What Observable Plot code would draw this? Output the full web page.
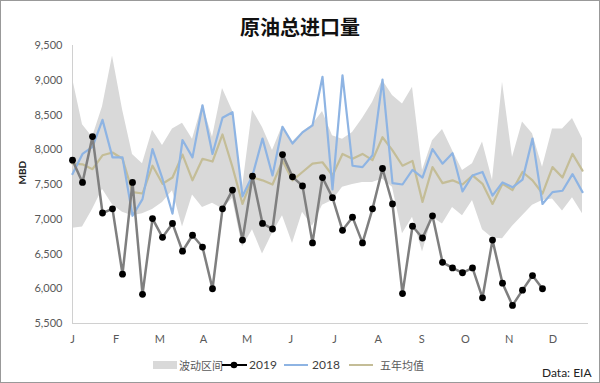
<!DOCTYPE html>
<html>
<head>
<meta charset="utf-8">
<script src="https://cdn.jsdelivr.net/npm/d3@7"></script>
<script src="https://cdn.jsdelivr.net/npm/@observablehq/plot@0.6"></script>
<style>
  html, body { margin: 0; padding: 0; background: #fff; }
  #wrap { position: relative; width: 600px; height: 383px; overflow: hidden; background: #fff; }
  #frame { position: absolute; left: 0; top: 0; width: 600px; height: 383px; box-sizing: border-box; border: 1px solid #999; pointer-events: none; }
  #title { position: absolute; left: 0; width: 600px; top: 12px; text-align: center; font-family: "Noto Sans CJK SC", sans-serif; font-weight: bold; font-size: 20px; color: #111; line-height: 30px; }
  .lg { position: absolute; font-size: 12px; color: #595959; line-height: 14px; white-space: nowrap; }
  .cjk { font-family: "Noto Sans CJK SC", sans-serif; font-size: 11px; }
  .lat { font-family: Lato, "Noto Sans", sans-serif; color: #404040; }
  #src { position: absolute; left: 542px; top: 365px; font-family: Lato, sans-serif; font-size: 12px; color: #222; }
  #chart { position: absolute; left: 0; top: 0; }
</style>
</head>
<body>
<div id="wrap">
  <div id="chart"></div>
  <div id="title">原油总进口量</div>
  <div id="legend"></div>
  <div id="src">Data: EIA</div>
  <div id="frame"></div>
</div>
<script>
// ---- data (MBD, weekly) ----
const months = ["J","F","M","A","M","J","J","A","S","O","N","D"];
const legendLabels = ["波动区间", "2019", "2018", "五年均值"];

const y2019 = [7850,7530,8190,7090,7150,6210,7530,5920,7010,6740,6940,6540,6770,6600,6000,7150,7420,6700,7620,6940,6860,7930,7610,7480,6660,7600,7310,6840,7030,6660,7150,7730,7220,5930,6900,6730,7050,6380,6300,6230,6300,5870,6700,6080,5760,5980,6190,6000];

const y2018 = [7650,7940,8040,8430,7890,7890,7050,7290,8010,7580,7080,8140,7890,8640,7940,8460,8540,7330,7630,8160,7630,8330,8090,8250,8350,9050,7430,9070,7770,7750,7920,9010,7520,7500,7710,7600,8010,7800,7950,7400,7630,7680,7340,7530,7460,7570,8160,7220,7390,7410,7650,7390];

const avg5 = [7800,7790,7720,7920,7960,7870,7390,7370,7770,7510,7600,7930,7560,7870,7830,8220,7750,7220,7600,7560,7500,7840,7560,7680,7800,7820,7630,7940,7870,7940,7850,8180,7990,7770,7840,7250,7750,7520,7560,7500,7630,7510,7220,7510,7420,7680,7560,7370,7750,7600,7940,7700];

const bandHi = [9030,8360,8180,8620,9350,8580,7930,7800,8280,8060,8300,8380,8150,8650,8180,8880,8560,7450,8570,8320,7990,8340,8110,8260,8360,8550,8200,8150,8250,8450,8680,9000,8780,8660,8900,7700,8130,8290,7990,7700,7800,8110,7560,8970,7890,8400,8230,7750,8300,8300,8450,8160];

const bandLo = [6870,6890,7140,7430,7210,7100,7050,7080,7140,7240,7410,6890,7350,7170,7230,7150,7300,6600,6850,6500,6800,7050,6650,7100,6900,7200,7270,7460,7500,7530,7530,7580,7460,6790,7030,6530,7030,6930,7170,7050,7270,6850,6730,6720,6900,7050,7200,7270,7290,7120,7310,7080];

const yTicks = d3.range(5500, 9501, 500);

// ---- table ----
const rows = bandHi.map((h, i) => ({
  week: i + 1, hi: h, lo: bandLo[i], avg: avg5[i], y18: y2018[i],
  y19: i < y2019.length ? y2019[i] : null
}));
const rows19 = rows.filter(d => d.y19 != null);
const monthPos = months.map((m, i) => 1 + i * 52.4 / 12);

const colors = { band: "#d9d9d9", y19: "#7f7f7f", y18: "#8eb4e3", avg: "#c4bd97" };

const chart = Plot.plot({
  width: 600, height: 383,
  marginTop: 45, marginBottom: 60, marginLeft: 72, marginRight: 12,
  style: { fontFamily: "Lato, 'Noto Sans', sans-serif", fontSize: "11px", color: "#595959", background: "transparent" },
  x: { domain: [1, 52.6] },
  y: { domain: [5500, 9500] },
  marks: [
    Plot.areaY(rows, { x: "week", y1: "lo", y2: "hi", fill: colors.band }),
    Plot.ruleY([5500], { stroke: "#d0d0d0", strokeWidth: 1.2 }),
    Plot.ruleX([1], { y1: 5500, y2: 9500, stroke: "#d0d0d0", strokeWidth: 1 }),
    Plot.lineY(rows, { x: "week", y: "avg", stroke: colors.avg, strokeWidth: 2.2 }),
    Plot.lineY(rows, { x: "week", y: "y18", stroke: colors.y18, strokeWidth: 2.2 }),
    Plot.lineY(rows19, { x: "week", y: "y19", stroke: colors.y19, strokeWidth: 2.5 }),
    Plot.dot(rows19, { x: "week", y: "y19", r: 3.4, fill: "#000", stroke: "none" }),
    Plot.axisY({ ticks: yTicks, tickFormat: d3.format(","), tickSize: 0, tickPadding: 10, label: null, fill: "#595959" }),
    Plot.axisX({ ticks: monthPos, tickFormat: d => months[monthPos.indexOf(d)], tickSize: 0, tickPadding: 12, label: null, fill: "#595959" }),
    Plot.text(["MBD"], { frameAnchor: "left", dx: -50, rotate: -90, text: d => d, fontWeight: "bold", fontSize: 10, fill: "#222" })
  ]
});
document.getElementById("chart").appendChild(chart);

// ---- legend ----
const lg = document.getElementById("legend");
function add(html) { lg.insertAdjacentHTML("beforeend", html); }
add(`<div style="position:absolute;left:153px;top:361px;width:24px;height:8px;background:${colors.band}"></div>`);
add(`<div class="lg cjk" style="left:179px;top:358px">${legendLabels[0]}</div>`);
add(`<svg style="position:absolute;left:221px;top:358px" width="27" height="14"><line x1="1" y1="7" x2="26" y2="7" stroke="#000" stroke-width="2"/><circle cx="13" cy="7" r="3.3" fill="#000"/></svg>`);
add(`<div class="lg lat" style="left:249px;top:358px">${legendLabels[1]}</div>`);
add(`<div style="position:absolute;left:284px;top:364px;width:24px;height:2px;background:${colors.y18}"></div>`);
add(`<div class="lg lat" style="left:312px;top:358px">${legendLabels[2]}</div>`);
add(`<div style="position:absolute;left:349px;top:364px;width:24px;height:2px;background:${colors.avg}"></div>`);
add(`<div class="lg cjk" style="left:380px;top:358px">${legendLabels[3]}</div>`);
</script>
</body>
</html>
